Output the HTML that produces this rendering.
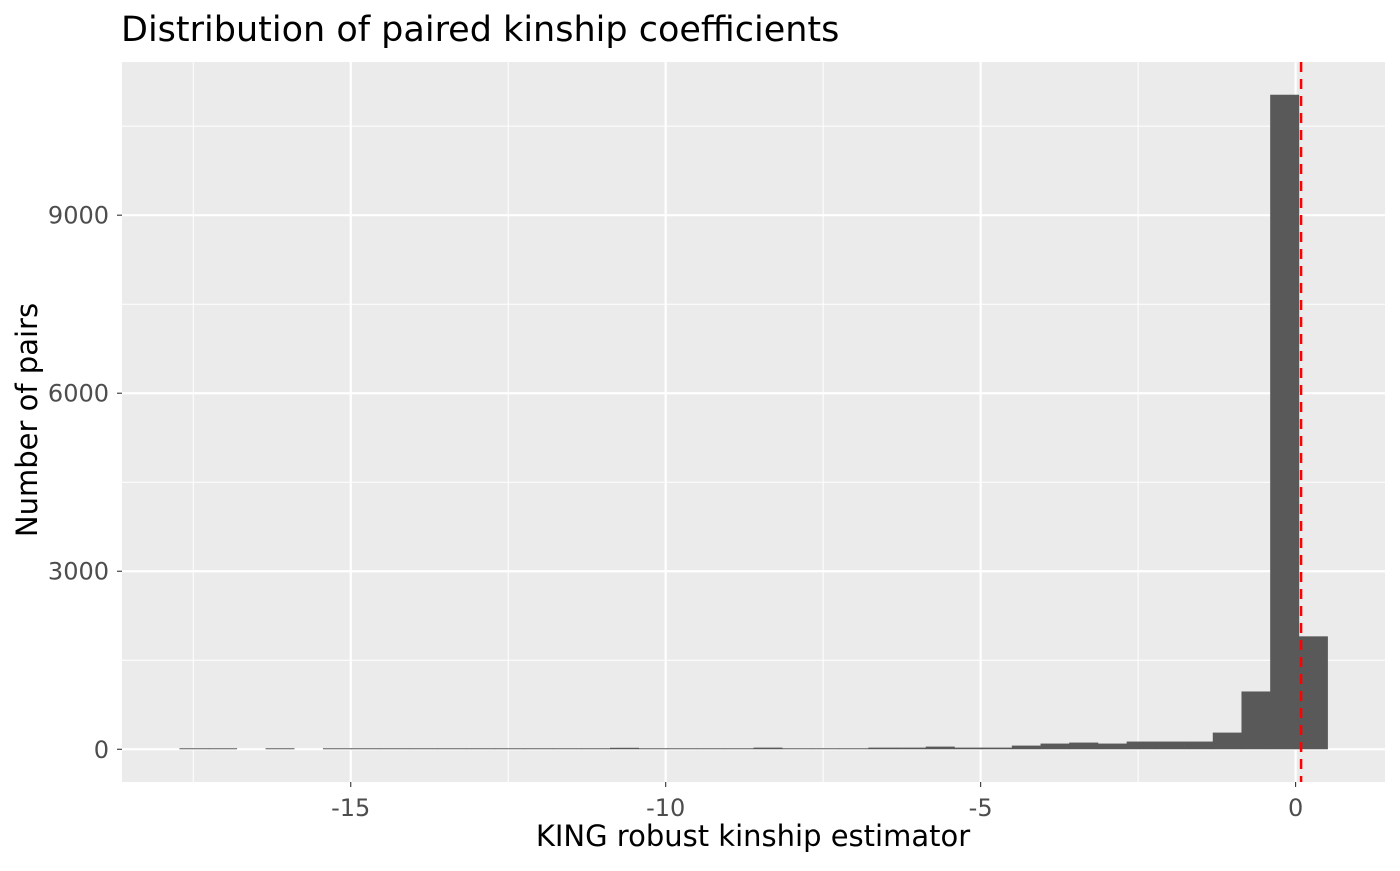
<!DOCTYPE html>
<html><head><meta charset="utf-8"><style>
body{margin:0;background:#fff;}
svg text{font-family:"DejaVu Sans","Liberation Sans",sans-serif;}
</style></head><body>
<svg id="chart" width="1400" height="866" xmlns="http://www.w3.org/2000/svg">
<rect width="1400" height="866" fill="#fff"/>
<text x="121" y="41" font-size="35" fill="#000">Distribution of paired kinship coefficients</text>
<rect x="122" y="62" width="1263" height="720" fill="#ebebeb"/>
<g id="grid"></g>
<g id="bars"></g>
<g id="ref"></g>
<g id="axes"></g>
<text x="753" y="846" font-size="29" text-anchor="middle" fill="#000">KING robust kinship estimator</text>
<text transform="translate(37,420) rotate(-90)" font-size="29" text-anchor="middle" fill="#000">Number of pairs</text>
</svg>
<script>
const binStart = -17.72;
const binWidth = 0.4557;
const counts = [5,5,0,5,0,5,5,5,5,5,5,5,5,5,5,25,5,5,5,5,28,11,11,11,28,28,45,28,28,62,96,113,96,130,130,130,281,974,11030,1903];
const xTicks = [-15,-10,-5,0];
const xTickLabels = ["-15","-10","-5","0"];
const xMinor = [-17.5,-12.5,-7.5,-2.5];
const yTicks = [0,3000,6000,9000];
const yTickLabels = ["0","3000","6000","9000"];
const yMinor = [1500,4500,7500,10500];
const refLine = 0.087;

const NS="http://www.w3.org/2000/svg";
const X0=122,X1=1385,Y0=62,Y1=782;
const xmin=binStart, xmax=binStart+binWidth*counts.length;
const xpad=(xmax-xmin)*0.05;
const ymax=Math.max(...counts), ypad=ymax*0.05;
const xs=v=>X0+(v-(xmin-xpad))/((xmax+xpad)-(xmin-xpad))*(X1-X0);
const ys=v=>Y1-(v+ypad)/(ymax+2*ypad)*(Y1-Y0);
function mk(tag,attrs,parent){const e=document.createElementNS(NS,tag);for(const k in attrs)e.setAttribute(k,attrs[k]);parent.appendChild(e);return e;}
const grid=document.getElementById('grid');
xMinor.forEach(v=>{const l=mk('line',{x1:xs(v),x2:xs(v),y1:Y0,y2:Y1,stroke:'#fff','stroke-width':1},grid);

});
yMinor.forEach(v=>{const l=mk('line',{x1:X0,x2:X1,y1:ys(v),y2:ys(v),stroke:'#fff','stroke-width':1},grid);

});
xTicks.forEach(v=>{const l=mk('line',{x1:xs(v),x2:xs(v),y1:Y0,y2:Y1,stroke:'#fff','stroke-width':2.2},grid);

});
yTicks.forEach(v=>{const l=mk('line',{x1:X0,x2:X1,y1:ys(v),y2:ys(v),stroke:'#fff','stroke-width':2.2},grid);

});
const bars=document.getElementById('bars');
counts.forEach((c,i)=>{if(c<=0)return;const a=xs(binStart+i*binWidth),b=xs(binStart+(i+1)*binWidth);
const top=ys(c),base=ys(0);const h=Math.max(base-top,1);
const r=mk('rect',{x:a,y:base-h,width:b-a+0.3,height:h,fill:'#595959'},bars);

});
const ref=document.getElementById('ref');
const rl=mk('line',{x1:xs(refLine),x2:xs(refLine),y1:Y0,y2:Y1,stroke:'#ff0000','stroke-width':2.5,'stroke-dasharray':'10 7'},ref);


const axes=document.getElementById('axes');
xTicks.forEach((v,i)=>{const t=mk('line',{x1:xs(v),x2:xs(v),y1:Y1,y2:Y1+5,stroke:'#333','stroke-width':1.1},axes);


const tx=mk('text',{x:xs(v),y:Y1+34,'font-size':24,'text-anchor':'middle',fill:'#4d4d4d'},axes);tx.textContent=xTickLabels[i];

});
yTicks.forEach((v,i)=>{const t=mk('line',{x1:X0-5,x2:X0,y1:ys(v),y2:ys(v),stroke:'#333','stroke-width':1.1},axes);


const tx=mk('text',{x:X0-13,y:ys(v)+8.5,'font-size':24,'text-anchor':'end',fill:'#4d4d4d'},axes);tx.textContent=yTickLabels[i];

});
</script>
</body></html>
